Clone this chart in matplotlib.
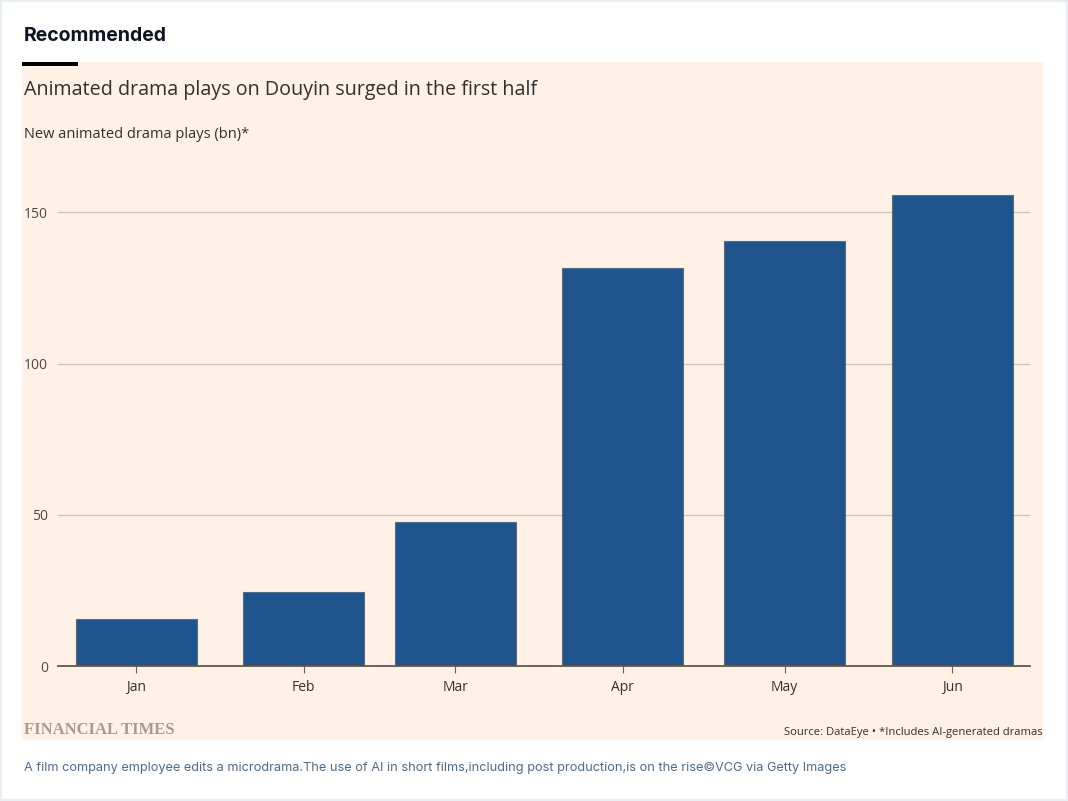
import matplotlib
matplotlib.use("Agg")
import matplotlib.pyplot as plt
import numpy as np
from datetime import datetime, timedelta
from matplotlib.patches import Rectangle

# data
months = ["2025-01-01", "2025-02-01", "2025-03-01", "2025-04-01", "2025-05-01", "2025-06-01"]
month_labels = ["Jan", "Feb", "Mar", "Apr", "May", "Jun"]
plays_bn = [15.4, 24.5, 47.6, 131.5, 140.5, 155.8]
yticks = [0, 50, 100, 150]

W, H = 1068, 801
fig = plt.figure(figsize=(W / 100, H / 100), dpi=100)
fig.patch.set_facecolor("white")
plt.rcParams["font.family"] = ["Open Sans", "DejaVu Sans"]

def fx(px):
    return px / W

def fy(py):
    return 1 - py / H

# outer page border + pink panel + black accent
fig.patches.append(Rectangle((0, 0), 1, 1, transform=fig.transFigure, fill=False,
                             edgecolor="#e9eef3", linewidth=3))
fig.patches.append(Rectangle((fx(22), fy(740)), fx(1043 - 22), (740 - 62) / H,
                             transform=fig.transFigure, facecolor="#fff1e5", edgecolor="none", zorder=0))
fig.patches.append(Rectangle((fx(22), fy(66)), fx(78 - 22), 4 / H,
                             transform=fig.transFigure, facecolor="black", edgecolor="none", zorder=1))

fig.text(fx(24), fy(36), "Recommended", fontsize=14, fontweight="bold", color="#0d1424",
         va="center", ha="left", family=["Inter", "DejaVu Sans"])
fig.text(fx(24), fy(90), "Animated drama plays on Douyin surged in the first half",
         fontsize=14.2, color="#33302e", va="center", ha="left")
fig.text(fx(24), fy(135), "New animated drama plays (bn)*", fontsize=10.5, color="#33302e",
         va="center", ha="left")

# axes in pixel placement
top_val = 160
y0, y150 = 666, 212.3
ppu = (y0 - y150) / 150
ax_top = y0 - top_val * ppu
ax = fig.add_axes([fx(58), fy(y0), fx(1030 - 58), (y0 - ax_top) / H])
ax.set_facecolor("none")
ax.set_zorder(5)

dates = [datetime.strptime(m, "%Y-%m-%d") for m in months]
ax.bar(dates, plays_bn, width=22.4, color="#1f558c", edgecolor="#5f6a75", linewidth=0.8, zorder=3)

ax.set_xlim(dates[0] - timedelta(days=14.5), dates[-1] + timedelta(days=14.4))
ax.set_ylim(0, top_val)
ax.set_yticks(yticks)
ax.set_yticklabels([str(t) for t in yticks])
ax.set_xticks(dates)
ax.set_xticklabels(month_labels)

for t in yticks[1:]:
    ax.axhline(t, color="#ccc1b7", linewidth=0.9, zorder=1)
ax.axhline(0, color="#5e5853", linewidth=1.3, zorder=4, clip_on=False)

for s in ax.spines.values():
    s.set_visible(False)
ax.tick_params(axis="y", length=0, pad=7, labelsize=10, labelcolor="#4d4845")
ax.tick_params(axis="x", length=5, width=0.8, color="#66605c", pad=5, labelsize=10, labelcolor="#33302e")

fig.text(fx(24), fy(730), "FINANCIAL TIMES", fontsize=12, fontweight="bold", color="#a89b8e",
         va="center", ha="left", family=["Liberation Serif", "DejaVu Serif"])
fig.text(fx(1043), fy(732), "Source: DataEye \u2022 *Includes AI-generated dramas", fontsize=8.1,
         color="#33302e", va="center", ha="right")
fig.text(fx(24), fy(768), "A film company employee edits a microdrama.The use of AI in short films,including post production,is on the rise\u00a9VCG via Getty Images",
         fontsize=9.2, color="#4e6a8e", va="center", ha="left", family=["Inter", "DejaVu Sans"])

fig.savefig("out.png", dpi=100, facecolor="white")
